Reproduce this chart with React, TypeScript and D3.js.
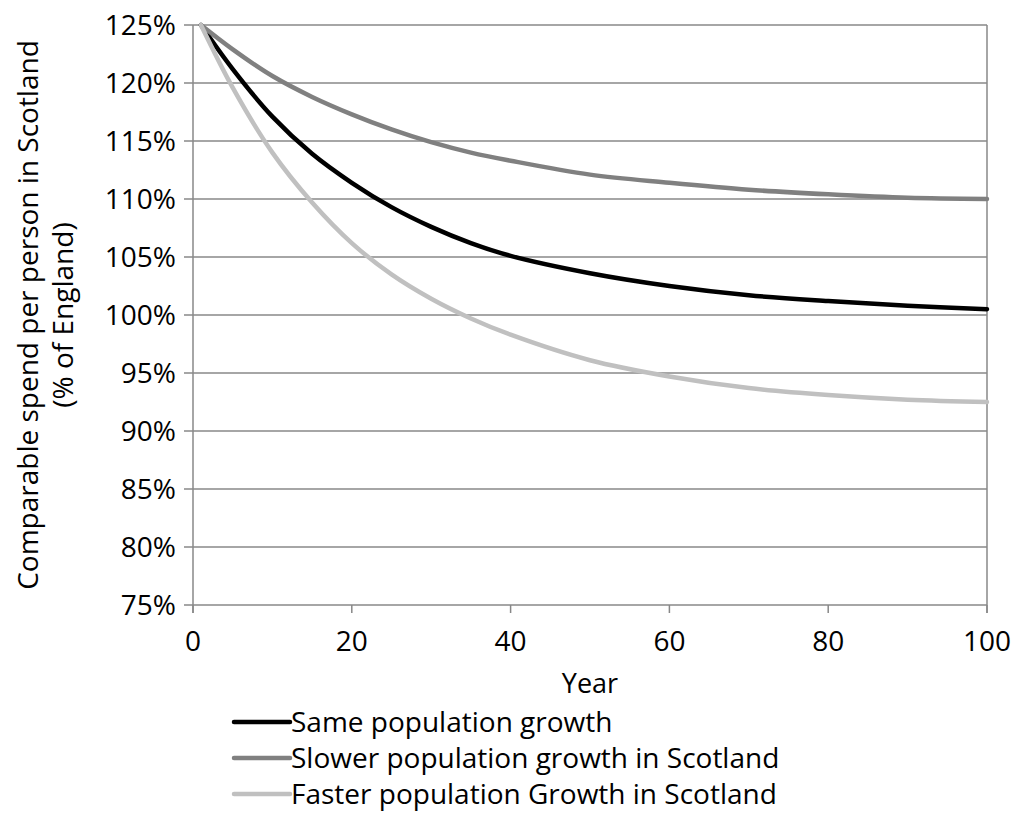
import React from "react";
import * as d3 from "d3";

const years = [1, 5, 10, 15, 20, 25, 30, 35, 40, 50, 60, 70, 80, 90, 100];
const sameGrowth = [125, 121.2, 117.1, 113.9, 111.4, 109.3, 107.6, 106.2, 105.1, 103.6, 102.5, 101.7, 101.2, 100.8, 100.5];
const slowerGrowth = [125, 122.9, 120.6, 118.8, 117.3, 116.0, 114.9, 114.0, 113.3, 112.1, 111.4, 110.8, 110.4, 110.1, 110.0];
const fasterGrowth = [125, 119.6, 114.0, 109.7, 106.2, 103.5, 101.4, 99.7, 98.3, 96.1, 94.7, 93.7, 93.1, 92.7, 92.5];

const seriesNames = ["Same population growth", "Slower population growth in Scotland", "Faster population Growth in Scotland"];
const seriesColors = ["#000000", "#808080", "#c0c0c0"];
const seriesValues = [sameGrowth, slowerGrowth, fasterGrowth];

const xTicks = [0, 20, 40, 60, 80, 100];
const yTicks = [75, 80, 85, 90, 95, 100, 105, 110, 115, 120, 125];

const W = 1011;
const H = 821;
const M = { left: 193, right: 987, top: 25, bottom: 605 };
const FONT = "Open Sans, sans-serif";
const FS = 28;

export default function App() {
  const x = d3.scaleLinear().domain([0, 100]).range([M.left, M.right]);
  const y = d3.scaleLinear().domain([75, 125]).range([M.bottom, M.top]);
  const line = d3
    .line<[number, number]>()
    .x((d) => x(d[0]))
    .y((d) => y(d[1]))
    .curve(d3.curveCatmullRom.alpha(0.5));
  const grid = "#888888";
  const cy = (M.top + M.bottom) / 2;
  const legendY = [722, 758, 794];

  return (
    <svg width={W} height={H} style={{ position: "absolute", left: 0, top: 0, background: "#fff" }} fontFamily={FONT}>
      <rect x={0} y={0} width={W} height={H} fill="#fff" />
      {yTicks.map((t) => (
        <g key={t}>
          <line x1={M.left - 9} x2={M.right} y1={y(t)} y2={y(t)} stroke={grid} strokeWidth={1.5} />
          <text x={176} y={y(t)} dy="0.36em" textAnchor="end" fontSize={FS} fill="#000">
            {t}%
          </text>
        </g>
      ))}
      <line x1={M.left} x2={M.left} y1={M.top} y2={M.bottom + 8} stroke={grid} strokeWidth={1.5} />
      <line x1={M.right} x2={M.right} y1={M.top} y2={M.bottom + 8} stroke={grid} strokeWidth={1.5} />
      {xTicks.map((t) => (
        <g key={t}>
          <line x1={x(t)} x2={x(t)} y1={M.bottom} y2={M.bottom + 8} stroke={grid} strokeWidth={1.5} />
          <text x={x(t)} y={651} textAnchor="middle" fontSize={FS} fill="#000">
            {t}
          </text>
        </g>
      ))}
      {seriesValues.map((vals, i) => (
        <path
          key={i}
          d={line(years.map((yr, j) => [yr, vals[j]] as [number, number])) || ""}
          fill="none"
          stroke={seriesColors[i]}
          strokeWidth={4.5}
          strokeLinecap="round"
        />
      ))}
      <text x={(M.left + M.right) / 2} y={693} textAnchor="middle" fontSize={FS - 1} fill="#000">
        Year
      </text>
      <g transform={`translate(38, ${cy}) rotate(-90)`}>
        <text x={0} y={0} textAnchor="middle" fontSize={FS} fill="#000">
          Comparable spend per person in Scotland
        </text>
      </g>
      <g transform={`translate(73, ${cy}) rotate(-90)`}>
        <text x={0} y={0} textAnchor="middle" fontSize={FS} fill="#000">
          (% of England)
        </text>
      </g>
      {seriesNames.map((n, i) => (
        <g key={n}>
          <line x1={234} x2={290} y1={legendY[i]} y2={legendY[i]} stroke={seriesColors[i]} strokeWidth={4.5} strokeLinecap="round" />
          <text x={291} y={legendY[i]} dy="0.36em" fontSize={FS} fill="#000">
            {n}
          </text>
        </g>
      ))}
    </svg>
  );
}
